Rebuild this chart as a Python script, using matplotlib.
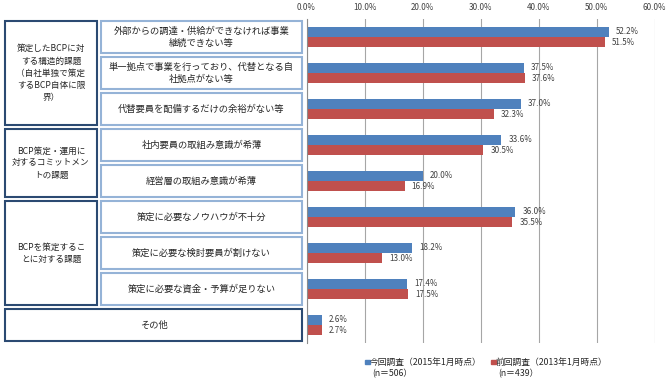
import matplotlib
matplotlib.use("Agg")
import matplotlib.pyplot as plt
import matplotlib.transforms as mtransforms
from matplotlib.patches import Rectangle
import numpy as np

plt.rcParams['font.family'] = ['Noto Sans CJK JP', 'DejaVu Sans']

# data
categories = [
    "外部からの調達・供給ができなければ事業\n継続できない等",
    "単一拠点で事業を行っており、代替となる自\n社拠点がない等",
    "代替要員を配備するだけの余裕がない等",
    "社内要員の取組み意識が希薄",
    "経営層の取組み意識が希薄",
    "策定に必要なノウハウが不十分",
    "策定に必要な検討要員が割けない",
    "策定に必要な資金・予算が足りない",
    "その他",
]
current = [52.2, 37.5, 37.0, 33.6, 20.0, 36.0, 18.2, 17.4, 2.6]
previous = [51.5, 37.6, 32.3, 30.5, 16.9, 35.5, 13.0, 17.5, 2.7]
group_titles = [
    "策定したBCPに対\nする構造的課題\n（自社単独で策定\nするBCP自体に限\n界）",
    "BCP策定・運用に\n対するコミットメン\nトの課題",
    "BCPを策定するこ\nとに対する課題",
    None,
]
group_sizes = [3, 2, 3, 1]
series_names = ["今回調査（2015年1月時点）\n(n＝506）", "前回調査（2013年1月時点）\n(n＝439）"]
xticks = [0, 10, 20, 30, 40, 50, 60]

blue = "#4F81BD"
red = "#C0504D"
W, H = 670, 384

fig = plt.figure(figsize=(W / 100, H / 100), dpi=100)
ax = fig.add_axes([306.5 / W, 1 - 343 / H, 348 / W, 324 / H])

y = np.arange(len(categories))
bh = 0.28
ax.barh(y - bh / 2, current, height=bh, color=blue)
ax.barh(y + bh / 2, previous, height=bh, color=red)

for i in range(len(categories)):
    ax.annotate(f"{current[i]:.1f}%", (current[i], y[i] - bh / 2), xytext=(5, 0),
                textcoords="offset points", va="center", ha="left", fontsize=5.8, color="#404040")
    ax.annotate(f"{previous[i]:.1f}%", (previous[i], y[i] + bh / 2), xytext=(5, 0),
                textcoords="offset points", va="center", ha="left", fontsize=5.8, color="#404040")

ax.set_xlim(0, 60)
ax.set_ylim(len(categories) - 0.5, -0.5)
ax.set_xticks(xticks)
ax.set_xticklabels([f"{t:.1f}%" for t in xticks], fontsize=5.8, color="#404040")
ax.xaxis.tick_top()
ax.tick_params(axis="x", length=0, pad=5)
ax.set_yticks([])
ax.grid(axis="x", color="#A6A6A6", lw=0.8)
ax.set_axisbelow(True)
for s in ["top", "right", "bottom"]:
    ax.spines[s].set_visible(False)
ax.spines["left"].set_color("#8C8C8C")
ax.spines["left"].set_linewidth(0.8)

# boxes on the left, x in figure pixels, y in data rows
trans = mtransforms.blended_transform_factory(fig.transFigure, ax.transData)
dark = "#2B4A72"
light = "#95B3D7"
gx0, gx1 = 5 / W, 97 / W
ix0, ix1 = 101 / W, 302 / W
inset = 0.45

start = 0
for title, n in zip(group_titles, group_sizes):
    top = start - inset
    bot = start + n - 1 + inset
    if title is None:
        ax.add_patch(Rectangle((gx0, top), ix1 - gx0, bot - top, transform=trans, clip_on=False,
                               fill=False, ec=dark, lw=1.5))
        ax.text((gx0 + ix1) / 2, start, categories[start], transform=trans, ha="center", va="center",
                fontsize=6.7, color="#262626")
    else:
        ax.add_patch(Rectangle((gx0, top), gx1 - gx0, bot - top, transform=trans, clip_on=False,
                               fill=False, ec=dark, lw=1.5))
        ax.text((gx0 + gx1) / 2, (top + bot) / 2, title, transform=trans, ha="center", va="center",
                fontsize=6.2, color="#262626", linespacing=1.45, multialignment="center")
        for i in range(start, start + n):
            ax.add_patch(Rectangle((ix0, i - inset), ix1 - ix0, 2 * inset, transform=trans,
                                   clip_on=False, fill=False, ec=light, lw=1.5))
            ax.text((ix0 + ix1) / 2, i, categories[i], transform=trans, ha="center", va="center",
                    fontsize=6.7, color="#262626", linespacing=1.4, multialignment="center")
    start += n

# legend
for name, col, px in zip(series_names, [blue, red], [365, 491]):
    fig.add_artist(Rectangle((px / W, 1 - 364 / H), 4.5 / W, 4.5 / H, transform=fig.transFigure,
                             color=col))
    first, second = name.split("\n")
    fig.text((px + 5) / W, 1 - 362 / H, first, fontsize=6.3, va="center", ha="left", color="#262626")
    fig.text((px + 7) / W, 1 - 374 / H, second, fontsize=6.3, va="center", ha="left", color="#262626")

fig.savefig("out.png", dpi=100)
